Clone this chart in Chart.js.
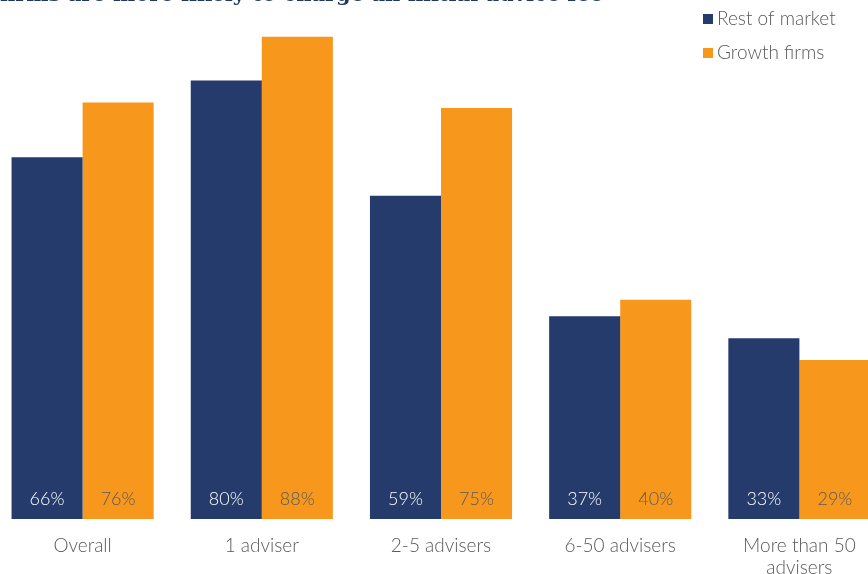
<!DOCTYPE html>
<html>
<head>
<meta charset="utf-8">
<script src="https://cdn.jsdelivr.net/npm/chart.js@4.4.1/dist/chart.umd.min.js"></script>
<style>
  html, body { margin: 0; padding: 0; background: #fff; overflow: hidden; width: 868px; height: 574px; }
  #wrap { position: absolute; left: -7px; top: -29px; width: 896px; height: 628px; }
</style>
</head>
<body>
<div id="wrap"><canvas id="chart" width="896" height="628"></canvas></div>
<script>
  // ── Data ──
  const categories   = ['Overall', '1 adviser', '2-5 advisers', '6-50 advisers', ['More than 50', 'advisers']];
  const restOfMarket = [66, 80, 59, 37, 33];
  const growthFirms  = [76, 88, 75, 40, 29];
  const seriesNames  = ['Rest of market', 'Growth firms'];
  const titleText    = 'firms are more likely to charge an initial advice fee';

  const navy   = '#243B6B';
  const orange = '#F7981D';
  const grey   = '#595959';
  const fontLight = '300 19px Lato';

  // value labels sit at the foot of each bar
  const valueLabels = {
    id: 'valueLabels',
    afterDatasetsDraw(chart) {
      const ctx = chart.ctx;
      ctx.save();
      ctx.font = '300 18px Lato';
      ctx.textAlign = 'center';
      ctx.textBaseline = 'middle';
      chart.data.datasets.forEach((ds, i) => {
        const meta = chart.getDatasetMeta(i);
        meta.data.forEach((bar, j) => {
          ctx.fillStyle = i === 0 ? '#ffffff' : grey;
          ctx.fillText(ds.data[j] + '%', bar.x, bar.base - 20);
        });
      });
      ctx.restore();
    }
  };

  // title (cut off at top) + legend in top-right corner
  const headerBits = {
    id: 'headerBits',
    afterDraw(chart) {
      const ctx = chart.ctx;
      ctx.save();
      ctx.font = 'bold 21px "DejaVu Serif"';
      ctx.fillStyle = '#1F3864';
      ctx.textAlign = 'left';
      ctx.textBaseline = 'alphabetic';
      ctx.fillText(titleText, 7, 30);

      ctx.font = fontLight;
      ctx.textBaseline = 'middle';
      chart.data.datasets.forEach((ds, i) => {
        const y = 48 + i * 34;
        ctx.fillStyle = ds.backgroundColor;
        ctx.fillRect(710, y - 5, 10, 10);
        ctx.fillStyle = grey;
        ctx.fillText(ds.label, 724, y);
      });
      ctx.restore();
    }
  };

  new Chart(document.getElementById('chart'), {
    type: 'bar',
    data: {
      labels: categories,
      datasets: [
        { label: seriesNames[0], data: restOfMarket, backgroundColor: navy },
        { label: seriesNames[1], data: growthFirms,  backgroundColor: orange }
      ]
    },
    options: {
      responsive: false,
      animation: false,
      layout: { padding: 0 },
      categoryPercentage: 0.793,
      barPercentage: 1,
      plugins: { legend: { display: false }, tooltip: { enabled: false } },
      scales: {
        x: {
          grid: { display: false },
          border: { display: false },
          ticks: { color: grey, font: { family: 'Lato', size: 19, weight: '300', lineHeight: 1.15 }, padding: 8, maxRotation: 0 },
          afterFit: s => { s.height = 80; }
        },
        y: { display: false, min: 0, max: 100 }
      }
    },
    plugins: [valueLabels, headerBits]
  });
</script>
</body>
</html>
